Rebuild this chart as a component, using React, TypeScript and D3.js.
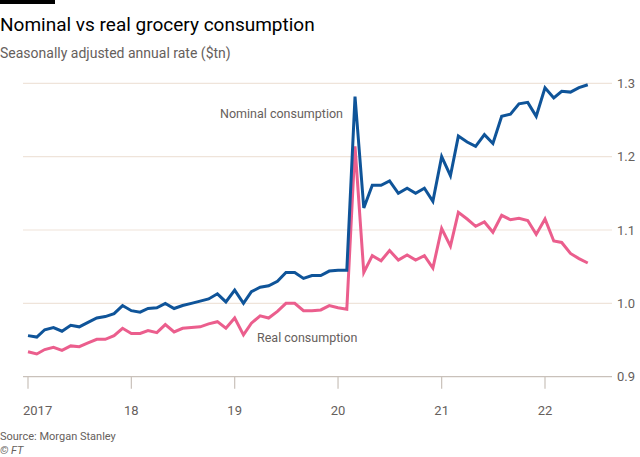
import { useRef, useEffect } from "react";
import * as d3 from "d3";

// monthly, Jan 2017 - Jun 2022
const startYear = 2017;
const nominal = [
  0.956, 0.954, 0.964, 0.967, 0.962, 0.97, 0.968, 0.974, 0.98, 0.982, 0.986, 0.997,
  0.99, 0.988, 0.993, 0.994, 1.0, 0.993, 0.997, 1.0, 1.003, 1.006, 1.013, 1.002,
  1.018, 1.0, 1.016, 1.022, 1.024, 1.03, 1.042, 1.042, 1.034, 1.038, 1.038, 1.044,
  1.045, 1.045, 1.282, 1.13, 1.161, 1.161, 1.167, 1.15, 1.157, 1.15, 1.157, 1.139,
  1.2, 1.174, 1.228, 1.22, 1.214, 1.23, 1.218, 1.255, 1.258, 1.272, 1.274, 1.255,
  1.294, 1.28, 1.289, 1.288, 1.294, 1.298,
];
const real = [
  0.934, 0.931, 0.937, 0.94, 0.936, 0.942, 0.941, 0.946, 0.951, 0.951, 0.956, 0.966,
  0.959, 0.959, 0.963, 0.96, 0.971, 0.961, 0.966, 0.967, 0.968, 0.972, 0.975, 0.966,
  0.98, 0.957, 0.973, 0.983, 0.98, 0.989, 1.0, 1.0, 0.99, 0.99, 0.991, 0.997,
  0.994, 0.992, 1.214, 1.042, 1.065, 1.058, 1.072, 1.059, 1.066, 1.059, 1.065, 1.048,
  1.102, 1.078, 1.124, 1.115, 1.105, 1.111, 1.097, 1.12, 1.114, 1.116, 1.113, 1.094,
  1.115, 1.085, 1.083, 1.068, 1.061, 1.055,
];
const yTicks = [0.9, 1.0, 1.1, 1.2, 1.3];
const xTickYears = [2017, 2018, 2019, 2020, 2021, 2022];
const xTickLabels = ["2017", "18", "19", "20", "21", "22"];

const App = () => {
  const chartRef = useRef<SVGSVGElement | null>(null);

  useEffect(() => {
    if (chartRef.current === null) return;
    const width = 640;
    const height = 457;
    const font = "Roboto, 'Noto Sans', sans-serif";

    const svg = d3.select(chartRef.current);
    svg.selectAll("*").remove();
    svg.attr("width", width).attr("height", height);

    const x = d3
      .scaleTime()
      .domain([new Date(2017, 0, 1), new Date(2022, 0, 1)])
      .range([28, 545]);
    const y = d3.scaleLinear().domain([0.9, 1.3]).range([376.7, 83.3]);

    // top bar + titles
    svg.append("rect").attr("x", 0).attr("y", 0).attr("width", 55).attr("height", 4).attr("fill", "#000");
    svg
      .append("text")
      .attr("x", 0)
      .attr("y", 31)
      .attr("font-family", font)
      .attr("font-size", 19)
      .attr("fill", "#000")
      .text("Nominal vs real grocery consumption");
    svg
      .append("text")
      .attr("x", 0)
      .attr("y", 58)
      .attr("font-family", font)
      .attr("font-size", 14)
      .attr("fill", "#66605c")
      .text("Seasonally adjusted annual rate ($tn)");

    // gridlines
    yTicks.forEach((t) => {
      svg
        .append("line")
        .attr("x1", 23)
        .attr("x2", 612)
        .attr("y1", y(t))
        .attr("y2", y(t))
        .attr("stroke", t === 0.9 ? "#c9c1ba" : "#efe4da")
        .attr("stroke-width", 1.2);
      svg
        .append("text")
        .attr("x", 617)
        .attr("y", y(t))
        .attr("dy", "0.35em")
        .attr("font-family", font)
        .attr("font-size", 13)
        .attr("fill", "#66605c")
        .text(d3.format(".1f")(t));
    });

    // x ticks
    xTickYears.forEach((yr, i) => {
      const xp = x(new Date(yr, 0, 1));
      svg
        .append("line")
        .attr("x1", xp)
        .attr("x2", xp)
        .attr("y1", y(0.9))
        .attr("y2", y(0.9) + 12)
        .attr("stroke", "#c9c1ba")
        .attr("stroke-width", 1.2);
      svg
        .append("text")
        .attr("x", i === 0 ? xp - 5 : xp)
        .attr("y", 415)
        .attr("text-anchor", i === 0 ? "start" : "middle")
        .attr("font-family", font)
        .attr("font-size", 13)
        .attr("fill", "#66605c")
        .text(xTickLabels[i]);
    });

    const line = d3
      .line<number>()
      .x((_, i) => x(new Date(startYear, i, 1)))
      .y((d) => y(d));

    svg
      .append("path")
      .datum(real)
      .attr("d", line)
      .attr("fill", "none")
      .attr("stroke", "#eb5e8d")
      .attr("stroke-width", 3)
      .attr("stroke-linejoin", "miter");
    svg
      .append("path")
      .datum(nominal)
      .attr("d", line)
      .attr("fill", "none")
      .attr("stroke", "#0f5499")
      .attr("stroke-width", 3)
      .attr("stroke-linejoin", "miter");

    // labels
    svg
      .append("text")
      .attr("x", 343)
      .attr("y", 118)
      .attr("text-anchor", "end")
      .attr("font-family", font)
      .attr("font-size", 12.5)
      .attr("fill", "#66605c")
      .text("Nominal consumption");
    svg
      .append("text")
      .attr("x", 257)
      .attr("y", 342)
      .attr("font-family", font)
      .attr("font-size", 12.5)
      .attr("fill", "#66605c")
      .text("Real consumption");

    // source
    svg
      .append("text")
      .attr("x", 0)
      .attr("y", 440)
      .attr("font-family", font)
      .attr("font-size", 11)
      .attr("fill", "#66605c")
      .text("Source: Morgan Stanley");
    svg
      .append("text")
      .attr("x", 0)
      .attr("y", 454)
      .attr("font-family", font)
      .attr("font-size", 11)
      .attr("font-style", "italic")
      .attr("fill", "#66605c")
      .text("© FT");
  }, []);

  return (
    <svg
      ref={chartRef}
      style={{ position: "absolute", left: 0, top: 0, background: "#fff" }}
    />
  );
};

export default App;
